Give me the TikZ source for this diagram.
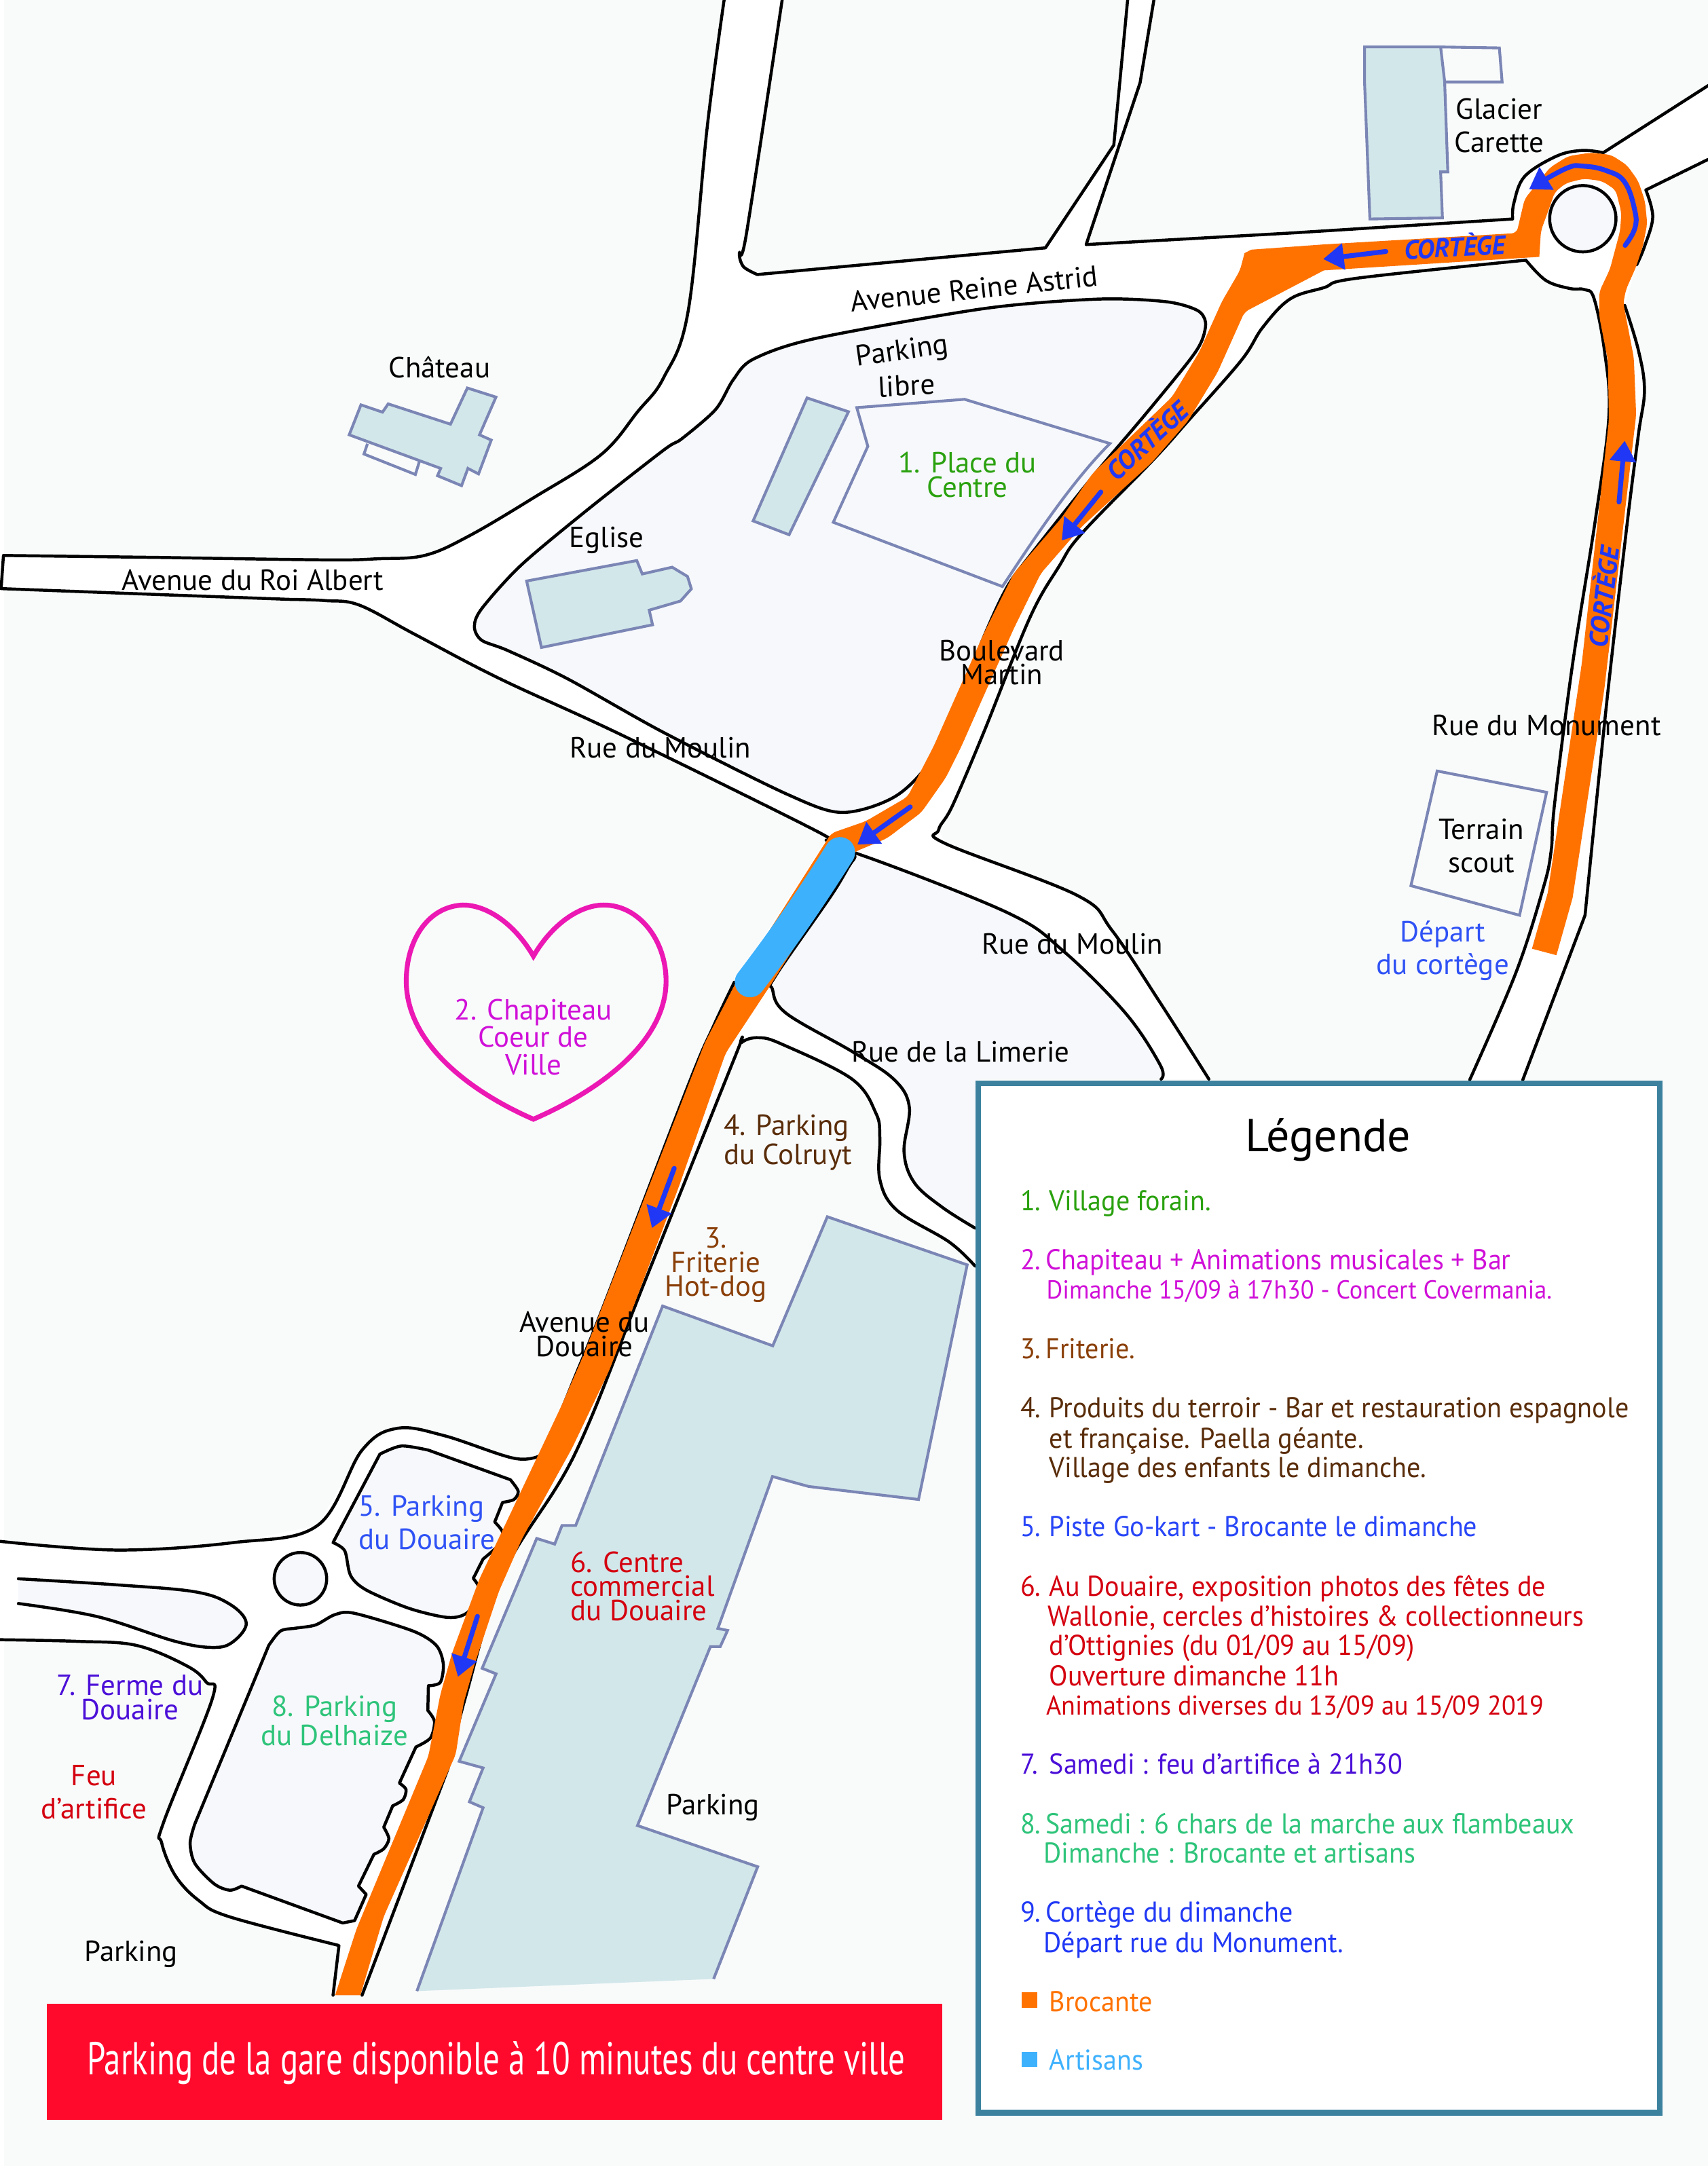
\documentclass[tikz,border=0pt]{standalone}
\usepackage{fontspec}
\setmainfont{PT Sans}
\newfontfamily\narrowfont[FakeStretch=0.95]{PT Sans}
\newfontfamily\bannerfont[FakeStretch=0.72]{PT Sans}
\usetikzlibrary{arrows.meta}
\definecolor{mapback}{HTML}{F9FBFB}
\definecolor{isle}{HTML}{F6F8FB}
\definecolor{house}{HTML}{D2E7EA}
\definecolor{houseline}{HTML}{7B86B5}
\definecolor{brocante}{HTML}{FF7200}
\definecolor{artisans}{HTML}{3EB1FD}
\definecolor{cortege}{HTML}{2038F5}
\definecolor{frame}{HTML}{3C829F}
\definecolor{banner}{HTML}{FF0A2D}
\definecolor{cgreen}{HTML}{2AA10F}
\definecolor{cpink}{HTML}{D010D8}
\definecolor{cheart}{HTML}{EC18B4}
\definecolor{cfrit}{HTML}{8A3F08}
\definecolor{cbrown}{HTML}{5A2D0A}
\definecolor{cblue}{HTML}{2F52F5}
\definecolor{cred}{HTML}{D4000F}
\definecolor{cpurple}{HTML}{4B0FD8}
\definecolor{cmint}{HTML}{2EC47A}
\tikzset{
  edge/.style={draw=black, line width=1.25pt, line cap=round, line join=round},
  isleshape/.style={edge, fill=isle},
  building/.style={draw=houseline, line width=1.15pt, fill=house, line join=miter},
  outline/.style={draw=houseline, line width=1.15pt},
  arrowline/.style={draw=cortege, line width=2pt, line cap=round, -{Triangle[length=8.5pt,width=10.5pt]}},
  lab/.style={font=\fontsize{12}{10}\selectfont, align=center, inner sep=0pt},
  labwide/.style={font=\fontsize{12}{13.6}\selectfont, align=center, inner sep=0pt},
  cortegelab/.style={font=\fontsize{10.9}{11}\selectfont\bfseries\itshape, text=cortege, inner sep=0pt},
  legline/.style={font=\narrowfont\fontsize{11.8}{12}\selectfont, anchor=base west, inner sep=0pt},
  legsmall/.style={font=\narrowfont\fontsize{10.7}{12}\selectfont, anchor=base west, inner sep=0pt},
}
\begin{document}
\begin{tikzpicture}[x=0.02cm, y=-0.02cm]
  \useasboundingbox (0,0) rectangle (1236,1567.6);
  \fill[mapback] (0,0) rectangle (1236,1567.6);
  \fill[white] (0,0) rectangle (2.8,1567.6);
  % road surface
  \fill[white] (524,0) -- (512,90) -- (498,225) -- (493.3,245.6) -- (480.2,273.4) -- (461.4,298) -- (435,329) -- (386.2,360.2) -- (339.2,388) -- (307.2,402) -- (273.4,404.4) -- (235.8,405.2) -- (2.5,402) -- (0.8,426) -- (235.8,434.7) -- (260.2,438) -- (361.7,491.2) -- (450,532) -- (589,600.5) -- (597.8,608) -- (531.4,710.8) -- (516,743.4) -- (497.8,786) -- (436.5,945.8) -- (415,999) -- (392,1053) -- (372,1055.4) -- (321.4,1039) -- (287.6,1033.7) -- (262,1049.5) -- (229.8,1104) -- (169,1116.4) -- (84.6,1121.8) -- (0,1115.5) -- (0,1186.7) -- (56.4,1187.9) -- (98.7,1190.8) -- (135.3,1205.7) -- (149.4,1217.6) -- (153.6,1229.5) -- (118.4,1318.8) -- (117,1333.7) -- (126.9,1357.5) -- (143.8,1375.4) -- (166.3,1387.3) -- (245.3,1408) -- (241,1444) -- (262,1444) -- (324.2,1280) -- (337,1227.7) -- (365.3,1137) -- (416,1052.3) -- (466.8,927) -- (531.4,766) -- (536.4,754.7) -- (549,751) -- (566.5,756) -- (616.6,781) -- (634,806) -- (636.7,823.6) -- (636.7,853.7) -- (649.2,876) -- (686.8,898.8) -- (705.6,916.3) -- (705.6,888.8) -- (681.8,873.7) -- (661.7,856) -- (654.2,833.6) -- (658,801) -- (646.7,781) -- (616.6,761) -- (569,733.4) -- (559,716) -- (561.5,705.8) -- (601.6,648) -- (617.9,621.9) -- (626.6,620) -- (729.4,660.7) -- (769.5,688.3) -- (814.6,733.4) -- (839.7,771) -- (840.2,781) -- (874.8,781) -- (839.7,725.9) -- (804.6,673.2) -- (779.5,648) -- (684.3,610.6) -- (679.3,600.5) -- (689.3,583) -- (712.3,529) -- (745,447.6) -- (766.3,410) -- (782.7,386.2) -- (835,332.3) -- (859.7,304.7) -- (898.2,260.9) -- (913.7,237) -- (933.4,216.5) -- (981.7,201.4) -- (1104.2,188.3) -- (1118.7,203) -- (1136,208.8) -- (1146.7,209.6) -- (1153.5,216) -- (1161,253.4) -- (1164.3,300.3) -- (1154.5,376) -- (1138,480.5) -- (1125,581.4) -- (1122.5,615.6) -- (1116.8,642.6) -- (1097,703.9) -- (1063.6,781.4) -- (1102,781.4) -- (1147,662.4) -- (1162.6,509.3) -- (1177.4,379.6) -- (1185.6,314.7) -- (1190,282.3) -- (1185.6,253.4) -- (1175.7,221) -- (1184.4,191.6) -- (1190,178.5) -- (1196,157) -- (1191,137.5) -- (1236,115.4) -- (1236,62) -- (1160.2,110.5) -- (1144.8,108.9) -- (1126.4,113) -- (1103.3,127.7) -- (1095.5,147) -- (1094.6,158.5) -- (933.4,168.7) -- (786,177) -- (825,60) -- (835,0) -- (816,0) -- (806,105) -- (756.5,179.4) -- (548,198.7) -- (538,193) -- (535,183) -- (540,170) -- (566,0) -- cycle;
  % islands
  \fill[isle] (617.9,621.9) -- (626.6,620) -- (729.4,660.7) -- (769.5,688.3) -- (814.6,733.4) -- (839.7,771) -- (840.2,781) -- (707,781) -- (707,890) -- (681.8,873.7) -- (661.7,856) -- (654.2,833.6) -- (658,801) -- (646.7,781) -- (616.6,761) -- (569,733.4) -- (559,716) -- (561.5,705.8) -- cycle;
  \draw[isleshape] plot[smooth cycle, tension=0.5] coordinates {(530.5,275) (517.8,296.4) (493.3,317.6) (480.2,325.8) (423.8,370) (376.8,409.3) (348.6,440.5) (343.3,453.6) (348.6,463.4) (367.4,470.8) (410.6,491.2) (480,530) (570,575) (610,588) (650,575) (680,540) (712.3,460) (728.7,425) (745,402.5) (790.9,344.8) (826.9,302.2) (859.7,262.1) (869.5,247) (872.4,233.3) (866.2,224.5) (843.3,218.3) (794.2,216.5) (712.3,223.3) (590,245) (545,260)};
  \draw[isleshape] plot[smooth, tension=0.5] coordinates {(241,1116.4) (249.5,1122.4) (253.7,1140.2) (265,1150.7) (296,1164) (324.2,1170.6) (338.3,1167) (347.3,1152) (342.5,1142.3)} -- plot[smooth, tension=0.5] coordinates {(349.6,1128.3) (361,1118) (363.7,1109) (358,1101.5)} -- plot[smooth, tension=0.5] coordinates {(363.7,1087.3) (372,1085.2) (375,1079.2) (369.3,1070.9)} -- plot[smooth, tension=0.5] coordinates {(310,1049.5) (290.4,1046.5) (274.9,1052.4)} -- cycle;
  \draw[isleshape] (141,1320) -- plot[smooth, tension=0.5] coordinates {(194.5,1190.8) (203,1180.4) (214.3,1178.3) (228.4,1176) (242.5,1168.5) (256.6,1167.6) (298.8,1180.4) (315.7,1190.8) (320.8,1204.2) (318.6,1217.6) (310,1220)} -- plot[smooth, tension=0.5] coordinates {(309.6,1237.9) (314.4,1245.9) (311.5,1257.8) (301,1264.3)} -- plot[smooth, tension=0.5] coordinates {(289,1290.5) (293.8,1295) (291.8,1302.4) (284.2,1306.9)} -- plot[smooth, tension=0.5] coordinates {(277.7,1322.4) (281.4,1330.7) (277.7,1338) (270.6,1342)} -- (259.4,1365) -- (265,1371) -- (256.6,1390) -- (248,1391.7) -- (174.8,1365) -- plot[smooth, tension=0.5] coordinates {(174.8,1365) (166.3,1368) (155,1363.4) (141,1348.6) (137.6,1333.7) (141,1320)} -- cycle;
  \fill[isle] plot[smooth, tension=0.6] coordinates {(13.3,1142.6) (84.6,1147) (141,1152) (166.3,1161) (178.2,1174.5) (169,1187.9) (155,1192.3) (126.9,1187.9) (70.5,1170) (13.3,1160.5)} -- cycle;
  \draw[edge] plot[smooth, tension=0.6] coordinates {(13.3,1142.6) (84.6,1147) (141,1152) (166.3,1161) (178.2,1174.5) (169,1187.9) (155,1192.3) (126.9,1187.9) (70.5,1170) (13.3,1160.5)};
  \draw[isleshape] (217.4,1142.6) circle (19);
  \draw[isleshape] (1145.4,158.3) circle (24);
  % road edges
  \draw[edge] plot[smooth, tension=0.6] coordinates {(524,0) (512,90) (498,225) (480.2,273.4) (461.4,298) (435,329) (386.2,360.2) (339.2,388) (307.2,402) (273.4,404.4) (235.8,405.2) (120,403.5)} -- (2.5,402) -- (0.8,426) -- (120,430.5) -- plot[smooth, tension=0.6] coordinates {(210,433.8) (235.8,434.7) (260.2,438) (300,459) (361.7,491.2) (450,532) (589,600.5) (597.8,608)};
  \draw[edge] plot[smooth, tension=0.5] coordinates {(566,0) (540,170) (535,183) (538,193) (548,198.7)} -- (756.5,179.4) -- (806,105) -- (816,0);
  \draw[edge] (835,0) -- (825,60) -- (786,177) -- (933.4,168.7) -- plot[smooth, tension=0.6] coordinates {(1094.6,158.5) (1095.5,147) (1103.3,127.7) (1126.4,113) (1144.8,108.9) (1160.2,110.5)} -- (1236,62);
  \draw[edge] (1236,115.4) -- plot[smooth, tension=0.6] coordinates {(1191,137.5) (1196,157) (1190,178.5) (1184.4,191.6)};
  \draw[edge] plot[smooth, tension=0.6] coordinates {(1175.7,221) (1185.6,253.4) (1190,282.3) (1185.6,314.7) (1177.4,379.6) (1162.6,509.3) (1147,662.4)} -- (1102,781.4);
  \draw[edge] plot[smooth, tension=0.6] coordinates {(1104.2,188.3) (1118.7,203) (1136,208.8) (1146.7,209.6) (1153.5,216) (1161,253.4) (1164.3,300.3) (1154.5,376) (1138,480.5) (1125,581.4) (1122.5,615.6) (1116.8,642.6) (1097,703.9) (1063.6,781.4)};
  \draw[edge] plot[smooth, tension=0.6] coordinates {(1104.2,188.3) (981.7,201.4) (958,208.2) (933.4,216.5) (913.7,237) (898.2,260.9) (859.7,304.7) (835,332.3) (782.7,386.2) (766.3,410) (745,447.6) (712.3,529) (689.3,583) (679.3,600.5) (684.3,610.6) (779.5,648) (804.6,673.2) (839.7,725.9) (874.8,781)};
  \draw[edge] plot[smooth, tension=0.6] coordinates {(840.2,781) (839.7,771) (814.6,733.4) (769.5,688.3) (729.4,660.7) (626.6,620) (617.9,621.9) (601.6,648) (561.5,705.8) (559,716) (569,733.4) (616.6,761) (646.7,781) (658,801) (654.2,833.6) (661.7,856) (681.8,873.7) (705.6,888.8)};
  \draw[edge] plot[smooth, tension=0.6] coordinates {(705.6,916.3) (686.8,898.8) (649.2,876) (636.7,853.7) (636.7,823.6) (634,806) (616.6,781) (566.5,756) (549,751) (536.4,754.7) (531.4,766) (466.8,927) (416,1052.3) (365.3,1137) (337,1227.7) (324.2,1280)} -- (262,1444);
  \draw[edge] plot[smooth, tension=0.6] coordinates {(531.4,710.8) (516,743.4) (497.8,786) (436.5,945.8) (415,999) (400,1036) (392,1053)};
  \draw[edge] plot[smooth, tension=0.6] coordinates {(392,1053) (372,1055.4) (321.4,1039) (287.6,1033.7) (262,1049.5) (229.8,1104) (169,1116.4) (84.6,1121.8) (0,1115.5)};
  \draw[edge] plot[smooth, tension=0.6] coordinates {(0,1186.7) (56.4,1187.9) (98.7,1190.8) (135.3,1205.7) (149.4,1217.6) (153.6,1229.5) (118.4,1318.8) (117,1333.7) (126.9,1357.5) (143.8,1375.4) (166.3,1387.3) (245.3,1408)} -- (241,1444);
  % buildings
  \draw[building] (987.5,34) -- (1042.5,34) -- (1045.4,59) -- (1047.7,124.4) -- (1042.5,124.4) -- (1043.8,157.7) -- (991.3,158.5) -- (987.5,60.6) -- cycle;
  \draw[outline] (1042.5,34) -- (1085,34.7) -- (1087,59.3) -- (1045.4,59.3);
  \draw[outline] (265.9,321.2) -- (263.4,328.6) -- (300.6,343.4) -- (303.5,334);
  \draw[building] (261.2,293) -- (276.8,298.3) -- (280.9,292.3) -- (326,307) -- (338.2,280.8) -- (358.9,287.4) -- (347,314.7) -- (355.5,318.5) -- (346.3,343) -- (338.6,339) -- (334,351.5) -- (316.6,344.3) -- (318.9,339) -- (252.7,314.7) -- cycle;
  \draw[building] (381.1,420.5) -- (460.8,405.7) -- (464.8,415.4) -- (486.4,410.5) -- (497.5,417.2) -- (500.3,426.2) -- (492.4,435) -- (469.8,441.6) -- (472.2,452.2) -- (391.8,468.6) -- cycle;
  \draw[building] (584,288) -- (614,298) -- (571,387) -- (545,377) -- cycle;
  \draw[outline] (620,295) -- (698,289) -- (803.2,321) .. controls (774,350) and (745,395) .. (725.4,424.5) -- (603,378) -- (628,323) -- cycle;
  \draw[outline] (1040,558) -- (1119.2,573.4) -- (1099.6,662.4) -- (1021,641) -- cycle;
  \fill[house] (479.5,945.2) -- (559.2,974) -- (598.7,880.6) -- (699.9,915.4) -- (664.7,1085.2) -- (585.2,1075.8) -- (559,1068.6) -- (519.5,1178.5) -- (526.5,1180) -- (521.2,1191.7) -- (514.1,1191.7) -- (461.3,1321.2) -- (548.3,1351) -- (516.4,1432.2) -- (301.7,1441) -- (349.6,1308.3) -- (339.7,1304) -- (349.6,1279.5) -- (332.3,1274.7) -- (359,1211.4) -- (348.9,1207.4) -- (388.4,1113.4) -- (401.4,1117.5) -- (406.7,1104) -- (416.6,1104) -- cycle;
  \draw[outline, line join=miter] (516.4,1432.2) -- (548.3,1351) -- (461.3,1321.2) -- (514.1,1191.7) -- (521.2,1191.7) -- (526.5,1180) -- (519.5,1178.5) -- (559,1068.6) -- (585.2,1075.8) -- (664.7,1085.2) -- (699.9,915.4) -- (598.7,880.6) -- (559.2,974) -- (479.5,945.2) -- (416.6,1104) -- (406.7,1104) -- (401.4,1117.5) -- (388.4,1113.4) -- (348.9,1207.4) -- (359,1211.4) -- (332.3,1274.7) -- (349.6,1279.5) -- (339.7,1304) -- (349.6,1308.3) -- (301.7,1441);
  % brocante route
  \fill[brocante, rounded corners=2pt] (242.5,1444) -- (258,1396) -- (310,1271) -- (318.6,1226.6) -- (327,1196.8) -- (346.8,1143) -- (366.5,1101.5) -- (406,1018) -- (421.5,982.5) -- (497.8,786) -- (510,754.7) -- (531.4,713.3) -- (601.6,603) -- (626.6,594.3) -- (656.7,576.7) -- (675.5,540.4) -- (712.3,457.6) -- (733.6,415) -- (768,375) -- (790.9,342.3) -- (848.2,287.2) -- (867.9,254.6) -- (884.2,218.3) -- (897.3,195.7) [sharp corners] -- (900.6,183.2) -- (905.5,180.7) -- (958,176.9) [rounded corners=2pt] -- (1097.5,168.7) -- (1103.3,144) -- (1121.7,121.2) -- (1134.8,113) -- (1151.2,110.5) -- (1165.9,112.1) -- (1177.3,119.5) -- (1185.5,131) -- (1190.4,145.7) -- (1192,162) -- (1188.8,178.4) -- (1183.9,193.2) -- (1176.6,209.6) -- (1174.7,219.4) -- (1182.3,258.8) -- (1184,300.3) -- (1161,498.5) [sharp corners] -- (1138,649.8) -- (1126.3,691.3) -- (1108.6,686.6) -- (1120,646.2) [rounded corners=2pt] -- (1144.6,480.5) -- (1164.3,303.9) -- (1163.5,260.6) -- (1157.3,229) -- (1157.3,211.2) -- (1165,194.9) -- (1172.4,167) -- (1173.3,153.9) -- (1169.2,137.5) -- (1159.3,131) -- (1146.2,129.3) -- (1133.1,132.6) -- (1125,139.2) -- (1121.7,149) -- (1115.1,167) [sharp corners] -- (1113.9,185.9) -- (958,195.7) [rounded corners=2pt] -- (900.6,225.8) -- (881,269.6) -- (859.7,304.7) -- (833.5,334.8) -- (782.7,381.2) -- (753.2,415) -- (733.6,455) -- (712.3,502.6) -- (695.6,540.4) -- (684.3,563) -- (666.7,588) -- (641.7,606.8) -- (617.9,616.8) -- (559,710.8) -- (525.1,762.2) -- (491.3,858.7) -- (441,991.5) -- (414,1048) -- (377.8,1113.5) -- (360.9,1152) -- (344,1202.7) -- (335.5,1232.5) -- (329.8,1269.7) -- (277.7,1387) [sharp corners] -- (260.8,1444) -- cycle;
  % artisans
  \draw[artisans, line width=12.5pt, line cap=round] (607.8,616.8) .. controls (590,645) and (570,675) .. (542.7,710.8);
  % cortege arrows
  \draw[arrowline] plot[smooth, tension=0.7] coordinates {(1176,177.6) (1183,165.4) (1183,152.3) (1175.7,131.8) (1162.6,123.6) (1146.2,120.3) (1133.1,122) (1106.5,137)};
  \draw[arrowline] (1002.9,182) -- (957.5,187.5);
  \draw[arrowline] (796.6,356.1) -- (768.3,391.2);
  \draw[arrowline] (658.7,584) -- (620.4,611.3);
  \draw[arrowline] (487.9,845.5) -- (471.8,888.8);
  \draw[arrowline] (345.5,1169.8) -- (331.4,1213.6);
  \draw[arrowline] (1171.6,363.3) -- (1175.7,319);
  \node[cortegelab, rotate=3] (cortege1) at (1052.6,177.7) {CORTÈGE};
  \node[cortegelab, rotate=43] (cortege2) at (829.4,318) {CORTÈGE};
  \node[cortegelab, rotate=83] (cortege3) at (1159.4,431.8) {CORTÈGE};
  % heart
  \draw[cheart, line width=2pt] (386,692) .. controls (372,668) and (352,655) .. (335,655) .. controls (310,656) and (294,680) .. (294,710) .. controls (294,755) and (340,790) .. (386,810) .. controls (432,790) and (482,755) .. (482,710) .. controls (482,680) and (462,655) .. (437,655) .. controls (420,655) and (400,668) .. (386,692) -- cycle;
  % map labels
  \node[labwide] (glacier) at (1085,91) {Glacier\\Carette};
  \node[lab, rotate=6] (astrid) at (705,209) {Avenue Reine Astrid};
  \node[lab, rotate=8] (plibre1) at (653,255) {Parking};
  \node[lab, rotate=3] (plibre2) at (656,279) {libre};
  \node[lab, text=cgreen] (place) at (700,343.5) {1. Place du\\Centre};
  \node[lab] (chateau) at (318,266) {Château};
  \node[lab] (eglise) at (439,391) {Eglise};
  \node[lab] (roialbert) at (183,420) {Avenue du Roi Albert};
  \node[lab] (boulevard) at (725,479.5) {Boulevard\\Martin};
  \node[lab] (moulin1) at (478,541) {Rue du Moulin};
  \node[lab] (monument) at (1119,525) {Rue du Monument};
  \node[labwide] (scout) at (1072,612) {Terrain\\scout};
  \node[labwide, text=cblue] (depart) at (1044,688) {Départ\\du cortège};
  \node[lab] (moulin2) at (776,683) {Rue du Moulin};
  \node[lab] (limerie) at (695,761) {Rue de la Limerie};
  \node[lab, text=cpink, font=\fontsize{12}{11.3}\selectfont] (chapiteau) at (386,750.5) {2. Chapiteau\\Coeur de\\Ville};
  \node[lab, text=cbrown, align=left] (colruyt) at (570,827) {4. Parking\\du Colruyt};
  \node[lab, text=cfrit] (friterie) at (518,915.5) {3.\\Friterie\\Hot-dog};
  \node[lab] (douaire) at (423,965.5) {Avenue du\\Douaire};
  \node[labwide, text=cblue, align=left] (pdouaire) at (309,1102) {5. Parking\\du Douaire};
  \node[lab, text=cred, align=left] (centre) at (465,1148) {6. Centre\\commercial\\du Douaire};
  \node[lab, text=cpurple] (ferme) at (94,1228.5) {7. Ferme du\\Douaire};
  \node[labwide, text=cred] (feu) at (68,1297) {Feu\\d’artifice};
  \node[lab, text=cmint] (delhaize) at (242,1245.5) {8. Parking\\du Delhaize};
  \node[lab] (parking1) at (516,1308) {Parking};
  \node[lab] (parking2) at (95,1414) {Parking};
  % banner
  \fill[banner] (34,1450) rectangle (682,1534);
  \node[inner sep=0pt, text=white, font=\bannerfont\fontsize{19}{20}\selectfont] (gare) at (359,1493) {Parking de la gare disponible à 10 minutes du centre ville};
  % legend
  \draw[frame, fill=white, line width=2.3pt] (708,784) rectangle (1201,1529);
  \node[inner sep=0pt, font=\fontsize{19}{20}\selectfont] (legende) at (961,825) {Légende};
  \node[legline, text=cgreen] (leg1) at (738,876) {1.};
  \node[legline, text=cgreen] (leg1t) at (759,876) {Village forain.};
  \node[legline, text=cpink] (leg2) at (738,919) {2.\hspace{-2pt} Chapiteau + Animations musicales + Bar};
  \node[legsmall, text=cpink] (leg2b) at (757,940) {Dimanche 15/09 à 17h30 - Concert Covermania.};
  \node[legline, text=cfrit] (leg3) at (738,983) {3.\hspace{-2pt} Friterie.};
  \node[legline, text=cbrown] (leg4) at (738,1026) {4.};
  \node[legline, text=cbrown] (leg4t) at (759,1026) {Produits du terroir - Bar et restauration espagnole};
  \node[legline, text=cbrown] (leg4b) at (759,1048) {et française. Paella géante.};
  \node[legline, text=cbrown] (leg4c) at (759,1069) {Village des enfants le dimanche.};
  \node[legline, text=cblue!85!blue] (leg5) at (738,1112) {5.};
  \node[legline, text=cblue!85!blue] (leg5t) at (759,1112) {Piste Go-kart - Brocante le dimanche};
  \node[legline, text=cred] (leg6) at (738,1155) {6.};
  \node[legline, text=cred] (leg6t) at (759,1155) {Au Douaire, exposition photos des fêtes de};
  \node[legline, text=cred] (leg6b) at (758,1177) {Wallonie, cercles d’histoires \& collectionneurs};
  \node[legline, text=cred] (leg6c) at (759,1198) {d’Ottignies (du 01/09 au 15/09)};
  \node[legline, text=cred] (leg6d) at (759,1220) {Ouverture dimanche 11h};
  \node[legline, text=cred, font=\narrowfont\fontsize{11.2}{12}\selectfont] (leg6e) at (757,1241) {Animations diverses du 13/09 au 15/09 2019};
  \node[legline, text=cpurple] (leg7) at (738,1284) {7.};
  \node[legline, text=cpurple] (leg7t) at (759,1284) {Samedi : feu d’artifice à 21h30};
  \node[legline, text=cmint] (leg8) at (738,1327) {8.\hspace{-2pt} Samedi : 6 chars de la marche aux flambeaux};
  \node[legline, text=cmint] (leg8b) at (755,1348) {Dimanche : Brocante et artisans};
  \node[legline, text=cortege] (leg9) at (738,1391) {9.\hspace{-2pt} Cortège du dimanche};
  \node[legline, text=cortege] (leg9b) at (755,1413) {Départ rue du Monument.};
  \fill[brocante] (739.3,1442) rectangle (750.7,1453);
  \node[legline, text=brocante] (legbroc) at (759,1456) {Brocante};
  \fill[artisans] (739.3,1485) rectangle (750.7,1496);
  \node[legline, text=artisans] (legart) at (759,1498) {Artisans};
\end{tikzpicture}
\end{document}
